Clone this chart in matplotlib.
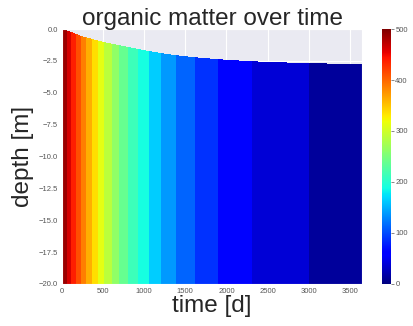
import numpy as np
import matplotlib
matplotlib.use("Agg")
import matplotlib.pyplot as plt
import seaborn as sns

sns.set_style("darkgrid")
plt.rcParams['font.family'] = ['Liberation Sans', 'DejaVu Sans']

om_times = [0, 51, 105, 163, 223, 288, 357, 431, 511, 598, 693, 799, 916,
            1050, 1204, 1386, 1609, 1897, 2303, 2996, 3650]
om_values = [500, 475, 450, 425, 400, 375, 350, 325, 300, 275, 250, 225, 200,
             175, 150, 125, 100, 75, 50, 25, 13]

# sediment surface depth [m] over time
surf_times = [0, 250, 500, 750, 1000, 1250, 1500, 1750, 2000, 2250, 2500,
              2750, 3000, 3250, 3500, 3650]
surf_depth = [0.0, -0.62, -1.05, -1.38, -1.70, -1.98, -2.18, -2.33, -2.45,
              -2.55, -2.62, -2.67, -2.71, -2.75, -2.78, -2.80]

bottom_depth = -20.0
levels = np.arange(0, 525, 25)
x_ticks = [0, 500, 1000, 1500, 2000, 2500, 3000, 3500]
y_ticks = [0.0, -2.5, -5.0, -7.5, -10.0, -12.5, -15.0, -17.5, -20.0]
cbar_ticks = [0, 100, 200, 300, 400, 500]

t = np.union1d(om_times, surf_times)
c = np.interp(t, om_times, om_values)
top = np.interp(t, surf_times, surf_depth)
frac = np.array([0.0, 1.0])
X = np.tile(t, (2, 1))
Y = bottom_depth + np.outer(frac, top - bottom_depth)
Z = np.tile(c, (2, 1))

fig = plt.figure(figsize=(4.13, 3.26), dpi=100)
ax = fig.add_axes([0.150, 0.129, 0.727, 0.782])
cs = ax.contourf(X, Y, Z, levels=levels, cmap='jet', vmin=0, vmax=500)
ax.set_xlim(0, 3650)
ax.set_ylim(-20, 0)
ax.set_xticks(x_ticks)
ax.set_yticks(y_ticks)
ax.tick_params(labelsize=5.5, colors='#555555', length=0, pad=3)
ax.set_title('organic matter over time', fontsize=17.5, pad=3)
ax.set_xlabel('time [d]', fontsize=17.5, labelpad=0)
ax.set_ylabel('depth [m]', fontsize=17.5, labelpad=3)

cax = fig.add_axes([0.925, 0.129, 0.022, 0.782])
sm = matplotlib.cm.ScalarMappable(norm=matplotlib.colors.Normalize(0, 500), cmap='jet')
cb = fig.colorbar(sm, cax=cax, ticks=cbar_ticks)
cb.outline.set_visible(False)
cb.ax.tick_params(labelsize=5.5, colors='#555555', length=2, width=0.5, pad=1)

fig.savefig('out.png', dpi=100)
